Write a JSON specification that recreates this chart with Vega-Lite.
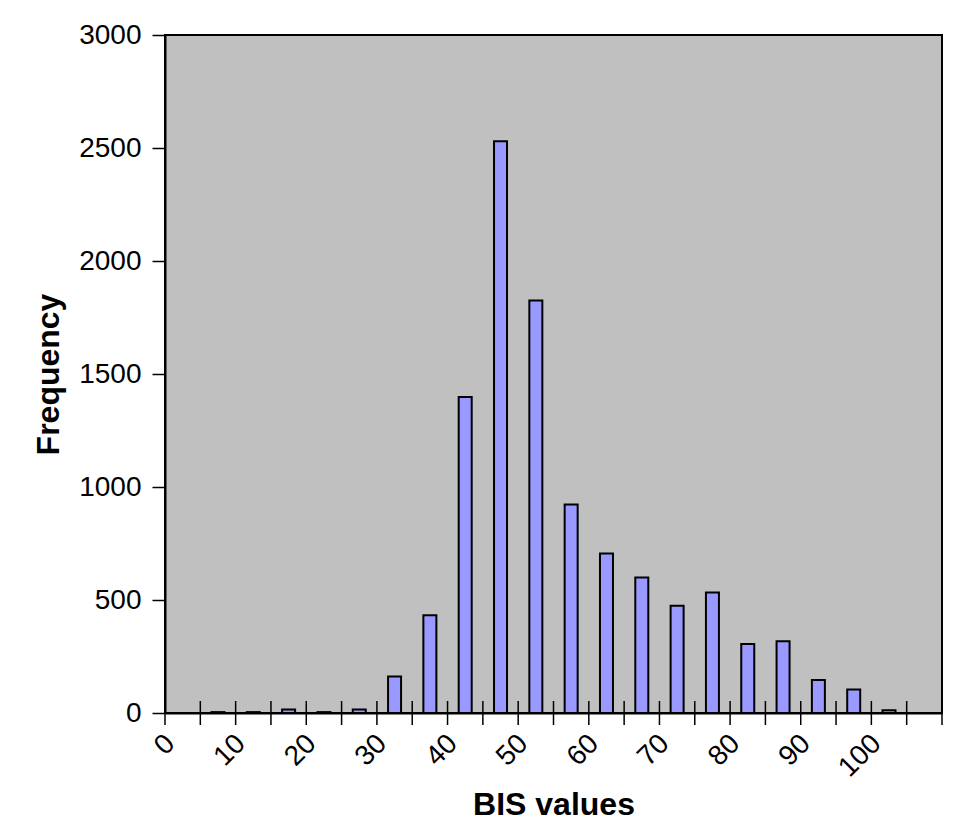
{
  "$schema": "https://vega.github.io/schema/vega-lite/v6.json",
  "width": 777,
  "height": 678,
  "autosize": {"type": "none"},
  "padding": {"left": 165, "top": 35, "right": 26, "bottom": 121},
  "background": "white",
  "config": {
    "view": {"fill": "#C0C0C0", "stroke": "black", "strokeWidth": 2},
    "font": "Liberation Sans"
  },
  "datasets": {
    "bins": [
      {"bis": 7.5, "frequency": 4},
      {"bis": 12.5, "frequency": 4},
      {"bis": 17.5, "frequency": 15},
      {"bis": 22.5, "frequency": 4},
      {"bis": 27.5, "frequency": 15},
      {"bis": 32.5, "frequency": 162},
      {"bis": 37.5, "frequency": 432},
      {"bis": 42.5, "frequency": 1398},
      {"bis": 47.5, "frequency": 2530},
      {"bis": 52.5, "frequency": 1825},
      {"bis": 57.5, "frequency": 923},
      {"bis": 62.5, "frequency": 706},
      {"bis": 67.5, "frequency": 600},
      {"bis": 72.5, "frequency": 475},
      {"bis": 77.5, "frequency": 533},
      {"bis": 82.5, "frequency": 305},
      {"bis": 87.5, "frequency": 317},
      {"bis": 92.5, "frequency": 146},
      {"bis": 97.5, "frequency": 104},
      {"bis": 102.5, "frequency": 12}
    ],
    "ticks": [
      {"t": 0}, {"t": 5}, {"t": 10}, {"t": 15}, {"t": 20}, {"t": 25}, {"t": 30}, {"t": 35},
      {"t": 40}, {"t": 45}, {"t": 50}, {"t": 55}, {"t": 60}, {"t": 65}, {"t": 70}, {"t": 75},
      {"t": 80}, {"t": 85}, {"t": 90}, {"t": 95}, {"t": 100}, {"t": 105}, {"t": 110}
    ]
  },
  "layer": [
    {
      "data": {"name": "bins"},
      "mark": {"type": "bar", "fill": "#9999FF", "stroke": "black", "strokeWidth": 2, "size": 13},
      "encoding": {
        "x": {
          "field": "bis",
          "type": "quantitative",
          "scale": {"domain": [0, 110], "nice": false, "zero": false, "padding": 0},
          "axis": {
            "values": [0, 10, 20, 30, 40, 50, 60, 70, 80, 90, 100],
            "ticks": false,
            "grid": false,
            "domain": true,
            "domainColor": "black",
            "domainWidth": 2,
            "labelAngle": -45,
            "labelAlign": "right",
            "labelBaseline": "middle",
            "labelOffset": 5,
            "labelFontSize": 28,
            "labelColor": "black",
            "labelPadding": 26,
            "labelFlush": false,
            "labelOverlap": false,
            "title": "BIS values",
            "titleFontSize": 32,
            "titleFontWeight": "bold",
            "titleColor": "black",
            "titleY": 101,
            "titleBaseline": "alphabetic"
          }
        },
        "y": {
          "field": "frequency",
          "type": "quantitative",
          "scale": {"domain": [0, 3000], "nice": false, "padding": 0},
          "axis": {
            "values": [0, 500, 1000, 1500, 2000, 2500, 3000],
            "format": "d",
            "grid": false,
            "domain": true,
            "domainColor": "black",
            "domainWidth": 2,
            "ticks": true,
            "tickColor": "black",
            "tickWidth": 1.5,
            "tickSize": 13,
            "labelFontSize": 28,
            "labelColor": "black",
            "labelPadding": 11,
            "labelFlush": false,
            "labelOverlap": false,
            "title": "Frequency",
            "titleFontSize": 32,
            "titleFontWeight": "bold",
            "titleColor": "black",
            "titleX": -117,
            "titleBaseline": "middle"
          }
        }
      }
    },
    {
      "data": {"name": "ticks"},
      "mark": {"type": "rule", "color": "black", "strokeWidth": 1.5},
      "encoding": {
        "x": {"field": "t", "type": "quantitative"},
        "y": {"datum": -53},
        "y2": {"datum": 53}
      }
    }
  ]
}
